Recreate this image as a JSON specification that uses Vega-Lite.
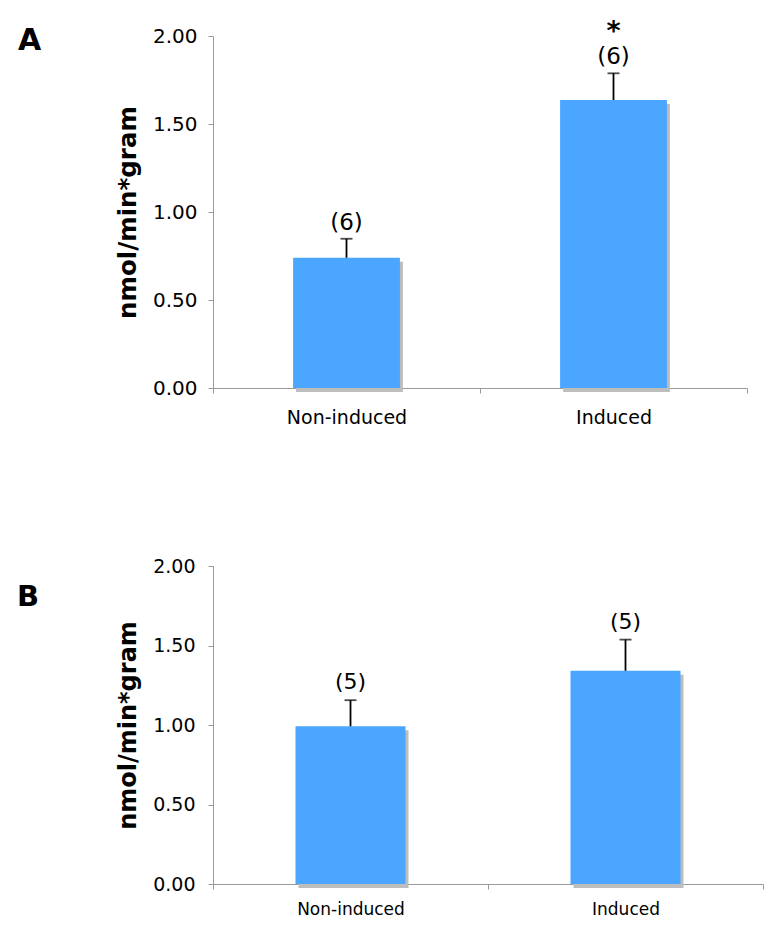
{
  "$schema": "https://vega.github.io/schema/vega-lite/v6.json",
  "padding": {"left": 17, "top": 18, "right": 0, "bottom": 0},
  "spacing": 130,
  "config": {
    "view": {"stroke": null},
    "font": "DejaVu Sans",
    "axis": {"grid": false, "domainColor": "#9a9a9a", "tickColor": "#9a9a9a", "tickSize": 5, "labelColor": "#000", "labelFont": "DejaVu Sans", "titleFont": "DejaVu Sans", "titleColor": "#000"}
  },
  "vconcat": [
    {
      "width": 534,
      "height": 352,
      "title": {"text": "A", "anchor": "start", "frame": "group", "font": "DejaVu Sans", "fontWeight": "bold", "fontSize": 30, "color": "#000", "dx": -195, "dy": 42},
      "data": {"values": [
        {"group": "Non-induced", "mean": 0.74, "upper": 0.848, "n": "(6)", "sig": ""},
        {"group": "Induced", "mean": 1.636, "upper": 1.788, "n": "(6)", "sig": "*"}
      ]},
      "encoding": {
        "x": {"field": "group", "type": "nominal", "sort": ["Non-induced", "Induced"], "scale": {"paddingInner": 0, "paddingOuter": 0}, "axis": {"title": null, "labelAngle": 0, "labelFontSize": 19, "labelPadding": 15, "tickBand": "extent"}}
      },
      "layer": [
        {"mark": {"type": "bar", "color": "#bdbdbd", "width": {"band": 0.4}, "xOffset": 3, "yOffset": 4, "y2Offset": 0},
         "encoding": {"y": {"field": "mean", "type": "quantitative", "scale": {"domain": [0, 2], "nice": false}, "axis": {"values": [0, 0.5, 1, 1.5, 2], "format": ".2f", "labelFontSize": 20, "labelPadding": 11, "title": "nmol/min*gram", "titleFontSize": 24.5, "titleFontWeight": "bold", "titlePadding": 12}}}},
        {"mark": {"type": "bar", "color": "#4aa6ff", "width": {"band": 0.4}},
         "encoding": {"y": {"field": "mean", "type": "quantitative"}}},
        {"mark": {"type": "rule", "color": "#000", "strokeWidth": 1.8},
         "encoding": {"y": {"field": "mean", "type": "quantitative"}, "y2": {"field": "upper"}}},
        {"mark": {"type": "tick", "color": "#000", "thickness": 1.8, "size": 12, "orient": "horizontal"},
         "encoding": {"y": {"field": "upper", "type": "quantitative"}}},
        {"mark": {"type": "text", "fontSize": 23, "dy": -16, "baseline": "middle", "color": "#000"},
         "encoding": {"y": {"field": "upper", "type": "quantitative"}, "text": {"field": "n"}}},
        {"mark": {"type": "text", "fontSize": 27, "fontWeight": "bold", "dy": -41, "baseline": "middle", "color": "#000"},
         "encoding": {"y": {"field": "upper", "type": "quantitative"}, "text": {"field": "sig"}}}
      ]
    },
    {
      "width": 550,
      "height": 318,
      "title": {"text": "B", "anchor": "start", "frame": "group", "font": "DejaVu Sans", "fontWeight": "bold", "fontSize": 29, "color": "#000", "dx": -196, "dy": 59},
      "data": {"values": [
        {"group": "Non-induced", "mean": 0.992, "upper": 1.156, "n": "(5)"},
        {"group": "Induced", "mean": 1.341, "upper": 1.537, "n": "(5)"}
      ]},
      "encoding": {
        "x": {"field": "group", "type": "nominal", "sort": ["Non-induced", "Induced"], "scale": {"paddingInner": 0, "paddingOuter": 0}, "axis": {"title": null, "labelAngle": 0, "labelFontSize": 17, "labelPadding": 12, "tickBand": "extent"}}
      },
      "layer": [
        {"mark": {"type": "bar", "color": "#bdbdbd", "width": {"band": 0.4}, "xOffset": 3, "yOffset": 4, "y2Offset": 0},
         "encoding": {"y": {"field": "mean", "type": "quantitative", "scale": {"domain": [0, 2], "nice": false}, "axis": {"values": [0, 0.5, 1, 1.5, 2], "format": ".2f", "labelFontSize": 19, "labelPadding": 13, "title": "nmol/min*gram", "titleFontSize": 24, "titleFontWeight": "bold", "titlePadding": 12}}}},
        {"mark": {"type": "bar", "color": "#4aa6ff", "width": {"band": 0.4}},
         "encoding": {"y": {"field": "mean", "type": "quantitative"}}},
        {"mark": {"type": "rule", "color": "#000", "strokeWidth": 1.8},
         "encoding": {"y": {"field": "mean", "type": "quantitative"}, "y2": {"field": "upper"}}},
        {"mark": {"type": "tick", "color": "#000", "thickness": 1.8, "size": 12, "orient": "horizontal"},
         "encoding": {"y": {"field": "upper", "type": "quantitative"}}},
        {"mark": {"type": "text", "fontSize": 22, "dy": -18, "baseline": "middle", "color": "#000"},
         "encoding": {"y": {"field": "upper", "type": "quantitative"}, "text": {"field": "n"}}}
      ]
    }
  ]
}
